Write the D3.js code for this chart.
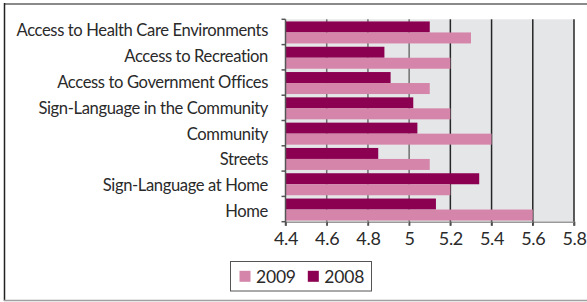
<!DOCTYPE html>
<html><head><meta charset="utf-8">
<script src="https://cdn.jsdelivr.net/npm/d3@7"></script>
<style>html,body{margin:0;padding:0;background:#fff;}svg{display:block;}</style>
</head><body>
<svg id="c" width="587" height="302"></svg>
<script>
const categories = ["Access to Health Care Environments","Access to Recreation","Access to Government Offices","Sign-Language in the Community","Community","Streets","Sign-Language at Home","Home"];
const series = ["2008","2009"];
const values2008 = [5.10, 4.88, 4.91, 5.02, 5.04, 4.85, 5.34, 5.13];
const values2009 = [5.30, 5.20, 5.10, 5.20, 5.40, 5.10, 5.20, 5.60];
const xTicks = [4.4, 4.6, 4.8, 5.0, 5.2, 5.4, 5.6, 5.8];
const legendOrder = ["2009","2008"];
const colors = {"2008":"#8b0050","2009":"#d485a9"};

const svg = d3.select("#c");
const L = 285.5, R = 574, T = 19.3, B = 221.7;
const x = d3.scaleLinear().domain([4.4, 5.8]).range([L, R]);
const y = d3.scaleBand().domain(categories).range([T, B]).padding(0);
const yi = d3.scaleBand().domain(series).range([0, y.bandwidth()]).paddingInner(0).paddingOuter(0.15).align(0.65);
const yLab = d3.scaleBand().domain(categories).range([19.1, 225.5]);

// frame
svg.append("line").attr("x1",4).attr("x2",587).attr("y1",4).attr("y2",4).attr("stroke","#8a8a8a").attr("stroke-width",2);
svg.append("line").attr("x1",4.5).attr("x2",4.5).attr("y1",3).attr("y2",301).attr("stroke","#222").attr("stroke-width",1.5);
svg.append("line").attr("x1",4).attr("x2",587).attr("y1",300.5).attr("y2",300.5).attr("stroke","#a0a0a0").attr("stroke-width",1.5);

// plot background
svg.append("rect").attr("x",L).attr("y",T).attr("width",R-L).attr("height",B-T).attr("fill","#e5e6e8");

// gridlines
svg.append("g").selectAll("line").data(xTicks.slice(1)).join("line")
  .attr("x1",d=>x(d)).attr("x2",d=>x(d)).attr("y1",T).attr("y2",B+4)
  .attr("stroke",d=>d<5.1?"#707070":"#262626").attr("stroke-width",1.5);

// bars
const rows = categories.map((c,i)=>({c, v:{"2008":values2008[i],"2009":values2009[i]}}));
const g = svg.append("g");
rows.forEach(r=>{
  series.forEach(s=>{
    g.append("rect").attr("x",x(4.4)).attr("y",y(r.c)+yi(s))
      .attr("width",x(r.v[s])-x(4.4)).attr("height",yi.bandwidth())
      .attr("fill",colors[s]);
  });
});

// bottom axis
const xa = svg.append("g").attr("transform",`translate(0,${B})`)
  .call(d3.axisBottom(x).tickValues(xTicks).tickSize(4).tickPadding(3).tickFormat(d=>d3.format("")(+d.toFixed(1))));
xa.select(".domain").attr("stroke","#9a9a9a").attr("stroke-width",1.5);
xa.selectAll(".tick line").attr("stroke","#555").attr("stroke-width",1.5);
xa.selectAll("text").attr("font-family","Lato").attr("font-size",18).attr("fill","#2a2a2a").attr("dy","0.93em").attr("letter-spacing","-0.3");

// left axis line and ticks
svg.append("line").attr("x1",L).attr("x2",L).attr("y1",T).attr("y2",B+4).attr("stroke","#555").attr("stroke-width",1.5);
const yTicks = categories.map(c=>y(c)).concat([B]);
svg.append("g").selectAll("line").data(yTicks).join("line")
  .attr("x1",L-4).attr("x2",L).attr("y1",d=>d).attr("y2",d=>d).attr("stroke","#555").attr("stroke-width",1.5);

// category labels
svg.append("g").selectAll("text").data(categories).join("text")
  .attr("x",268).attr("y",d=>yLab(d)+yLab.bandwidth()/2+4.3)
  .attr("text-anchor","end").attr("font-family","Lato").attr("font-size",16.6).attr("letter-spacing","-0.38").attr("fill","#2a2a2a")
  .text(d=>d);

// legend
svg.append("rect").attr("x",230.5).attr("y",261.5).attr("width",141).attr("height",29.5)
  .attr("fill","#fff").attr("stroke","#555").attr("stroke-width",1);
const lx = [239.5, 307.8];
legendOrder.forEach((s,i)=>{
  svg.append("rect").attr("x",lx[i]).attr("y",270.8).attr("width",11).attr("height",11).attr("fill",colors[s]);
  svg.append("text").attr("x",lx[i]+16.5).attr("y",282.8).attr("font-family","Lato").attr("font-size",17.5).attr("letter-spacing","-0.2")
    .attr("fill","#2a2a2a").text(s);
});
</script>
</body></html>
